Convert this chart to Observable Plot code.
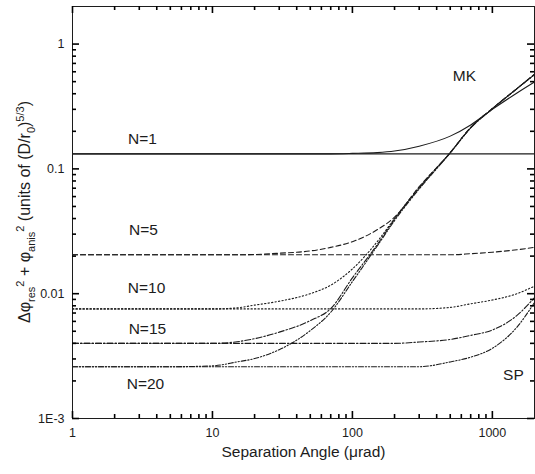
<!DOCTYPE html>
<html>
<head>
<meta charset="utf-8">
<script src="https://cdn.jsdelivr.net/npm/d3@7"></script>
<script src="https://cdn.jsdelivr.net/npm/@observablehq/plot@0.6"></script>
<style>
  body { margin: 0; background: #fff; }
</style>
</head>
<body>
<div id="chart"></div>
<script>
// Separation angle (µrad) at which every curve is sampled
const angle = [1, 3, 5, 10, 15, 20, 30, 50, 70, 100, 150, 200, 300, 500, 700, 1000, 1500, 2000];

// Residual + anisoplanatic phase variance, units of (D/r0)^5/3
// MK: curves that climb onto the common anisoplanatic branch
const mkN1  = [0.132, 0.132, 0.132, 0.132, 0.132, 0.132, 0.132, 0.132, 0.132, 0.133, 0.135, 0.139, 0.152, 0.183, 0.225, 0.300, 0.406, 0.497];
const mkN5  = [0.0205, 0.0205, 0.0205, 0.0205, 0.0205, 0.0206, 0.0211, 0.0220, 0.0235, 0.0261, 0.0325, 0.041, 0.072, 0.135, 0.215, 0.305, 0.44, 0.575];
const mkN10 = [0.00755, 0.00755, 0.00755, 0.00755, 0.0077, 0.0081, 0.0087, 0.0100, 0.0117, 0.0158, 0.026, 0.040, 0.071, 0.135, 0.214, 0.304, 0.44, 0.57];
const mkN15 = [0.0040, 0.0040, 0.0040, 0.0040, 0.00412, 0.00436, 0.00492, 0.00608, 0.0076, 0.0134, 0.0246, 0.0395, 0.070, 0.135, 0.213, 0.303, 0.44, 0.57];
const mkN20 = [0.0026, 0.0026, 0.0026, 0.00264, 0.00284, 0.00302, 0.00356, 0.00506, 0.0071, 0.0125, 0.0240, 0.0385, 0.069, 0.134, 0.213, 0.303, 0.44, 0.57];
// SP: curves that stay near their fitting-error level
const spN1  = [0.132, 0.132, 0.132, 0.132, 0.132, 0.132, 0.132, 0.132, 0.132, 0.132, 0.132, 0.132, 0.132, 0.132, 0.132, 0.132, 0.132, 0.132];
const spN5  = [0.0205, 0.0205, 0.0205, 0.0205, 0.0205, 0.0205, 0.0205, 0.0205, 0.0205, 0.0205, 0.0205, 0.0205, 0.0205, 0.0205, 0.0209, 0.0215, 0.0225, 0.0235];
const spN10 = [0.00755, 0.00755, 0.00755, 0.00755, 0.00755, 0.00755, 0.00755, 0.00755, 0.00755, 0.00755, 0.00755, 0.00755, 0.00755, 0.00776, 0.0083, 0.0089, 0.0100, 0.0115];
const spN15 = [0.0040, 0.0040, 0.0040, 0.0040, 0.0040, 0.0040, 0.0040, 0.0040, 0.0040, 0.0040, 0.0040, 0.0040, 0.0041, 0.0043, 0.00463, 0.00512, 0.0067, 0.0093];
const spN20 = [0.0026, 0.0026, 0.0026, 0.0026, 0.0026, 0.0026, 0.0026, 0.0026, 0.0026, 0.0026, 0.0026, 0.0026, 0.0026, 0.00284, 0.0031, 0.00365, 0.0054, 0.0085];

// Axis ticks and labels
const xMajor = [1, 10, 100, 1000];
const xMinor = [2, 3, 4, 5, 6, 7, 8, 9, 20, 30, 40, 50, 60, 70, 80, 90, 200, 300, 400, 500, 600, 700, 800, 900];
const yMajor = [0.001, 0.01, 0.1, 1];
const yMinor = [0.002, 0.003, 0.004, 0.005, 0.006, 0.007, 0.008, 0.009,
                0.02, 0.03, 0.04, 0.05, 0.06, 0.07, 0.08, 0.09,
                0.2, 0.3, 0.4, 0.5, 0.6, 0.7, 0.8, 0.9];
const yTickText = {0.001: "1E-3", 0.01: "0.01", 0.1: "0.1", 1: "1"};

// Curve annotations (anchored in data coordinates)
const notes = [
  {text: "N=1",  angle: 3.16, value: 0.174},
  {text: "N=5",  angle: 3.21, value: 0.0325},
  {text: "N=10", angle: 3.38, value: 0.011},
  {text: "N=15", angle: 3.43, value: 0.00525},
  {text: "N=20", angle: 3.32, value: 0.0019},
  {text: "MK",   angle: 631,  value: 0.555},
  {text: "SP",   angle: 1413, value: 0.00225}
];

const ink = "#1c1c1c";
const dashes = {
  1: null,
  5: "5,3",
  10: "1.3,2.2",
  15: "6,2,1.5,2",
  20: "5,1.8,1.3,1.8,1.3,1.8"
};
const series = [
  {id: "mkN1", n: 1, values: mkN1},   {id: "spN1", n: 1, values: spN1},
  {id: "mkN5", n: 5, values: mkN5},   {id: "spN5", n: 5, values: spN5},
  {id: "mkN10", n: 10, values: mkN10}, {id: "spN10", n: 10, values: spN10},
  {id: "mkN15", n: 15, values: mkN15}, {id: "spN15", n: 15, values: spN15},
  {id: "mkN20", n: 20, values: mkN20}, {id: "spN20", n: 20, values: spN20}
];

const lineMarks = series.map(s =>
  Plot.line(s.values.map((v, i) => ({angle: angle[i], value: v})), {
    x: "angle", y: "value", curve: "monotone-x",
    stroke: ink, strokeWidth: 1.1, strokeDasharray: dashes[s.n]
  })
);

// Plot dimensions and scale domains
const W = 535, H = 474;
const mL = 72, mR = 1, mT = 6, mB = 56;
const xDomain = [1, 2000], yDomain = [0.001, 2];
const frameW = W - mL - mR, frameH = H - mT - mB;

// Convert a tick length in pixels to a multiplicative step on each log axis
const xStep = len => Math.pow(xDomain[1] / xDomain[0], len / frameW);
const yStep = len => Math.pow(yDomain[1] / yDomain[0], len / frameH);

// Inward-pointing ticks on all four sides of the frame
const tickStyle = {stroke: "#000", strokeWidth: 1.6};
const xTicks = (values, len) => [
  Plot.ruleX(values, {x: d => d, y1: yDomain[0], y2: yDomain[0] * yStep(len), ...tickStyle}),
  Plot.ruleX(values, {x: d => d, y1: yDomain[1], y2: yDomain[1] / yStep(len), ...tickStyle})
];
const yTicks = (values, len) => [
  Plot.ruleY(values, {y: d => d, x1: xDomain[0], x2: xDomain[0] * xStep(len), ...tickStyle}),
  Plot.ruleY(values, {y: d => d, x1: xDomain[1], x2: xDomain[1] / xStep(len), ...tickStyle})
];

const chart = Plot.plot({
  width: W,
  height: H,
  marginLeft: mL,
  marginRight: mR,
  marginTop: mT,
  marginBottom: mB,
  style: {fontFamily: "'Liberation Sans', Arial, sans-serif", fontSize: "12.5px", color: ink, background: "#fff"},
  x: {type: "log", domain: xDomain},
  y: {type: "log", domain: yDomain},
  marks: [
    ...lineMarks,
    Plot.frame({stroke: ink, strokeWidth: 1}),
    ...xTicks(xMajor, 7),
    ...xTicks(xMinor, 4),
    ...yTicks(yMajor, 7),
    ...yTicks(yMinor, 4),
    Plot.axisX({ticks: xMajor, tickFormat: d => String(d), tickSize: 0, tickPadding: 10, fontSize: 12.5, label: null}),
    Plot.axisY({ticks: yMajor, tickFormat: d => yTickText[d], tickSize: 0, tickPadding: 8, fontSize: 12.5, label: null}),
    Plot.text(["Separation Angle (μrad)"], {frameAnchor: "bottom", dy: 34, fontSize: 15.5, lineAnchor: "middle", fill: ink}),
    Plot.text(notes, {x: "angle", y: "value", text: "text", fontSize: 15.5, fill: ink})
  ]
});

document.getElementById("chart").append(chart);

// Rotated y-axis title with sub- and superscripts
const yRange = chart.scale("y").range;
const yMid = (yRange[0] + yRange[1]) / 2;
const title = d3.select(chart).append("text")
  .attr("transform", `translate(30,${yMid}) rotate(-90)`)
  .attr("text-anchor", "middle")
  .attr("fill", ink)
  .attr("font-family", "'Liberation Sans', Arial, sans-serif")
  .attr("font-size", 16);
const parts = [
  ["Δφ", 0], ["res", 4.5], ["2", -6.5], [" + φ", 0], ["anis", 4.5], ["2", -6.5],
  [" (units of (D/r", 0], ["0", 4.5], [")", 0], ["5/3", -6.5], [")", 0]
];
let shift = 0;
for (const [str, s] of parts) {
  title.append("tspan")
    .attr("dy", s - shift)
    .attr("font-size", s === 0 ? 16 : 11)
    .text(str);
  shift = s;
}
</script>
</body>
</html>
